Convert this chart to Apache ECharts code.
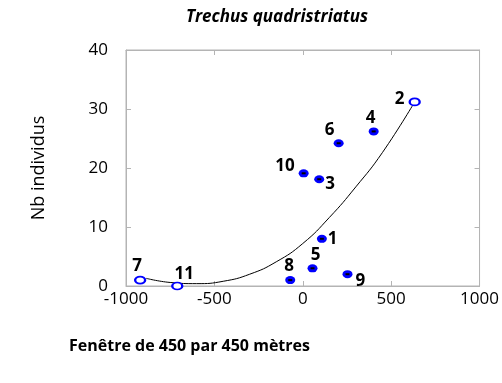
<!DOCTYPE html>
<html>
<head>
<meta charset="utf-8">
<script src="https://cdn.jsdelivr.net/npm/echarts@6/dist/echarts.min.js"></script>
<style>
  html, body { margin: 0; padding: 0; background: #fff; }
  #chart { width: 502px; height: 383px; }
</style>
</head>
<body>
<div id="chart"></div>
<script>
// sites (numero, x, nb individus)
const siteNames = ['1', '2', '3', '4', '5', '6', '7', '8', '9', '10', '11'];
const siteX = [108, 633, 93, 401, 55, 203, -920, -71, 253, 5, -710];
const siteY = [8.0, 31.2, 18.1, 26.2, 3.0, 24.2, 1.0, 1.0, 2.0, 19.1, 0.0];
// sites drawn hollow in the original
const hollowSites = ['2', '7', '11'];

// fitted curve
const curveX = [-886, -750, -600, -450, -300, -150, 0, 150, 300, 450, 633];
const curveY = [1.3, 0.6, 0.4, 0.8, 2.0, 4.1, 7.2, 11.6, 16.8, 22.6, 31.2];

// where each number sits around its point
const labelPlace = {
  '1': { position: 'right', offset: [-1, 0] },
  '2': { position: 'left', offset: [-2, -3] },
  '3': { position: 'right', offset: [-1, 5] },
  '4': { position: 'top', offset: [-3, 1] },
  '5': { position: 'top', offset: [3, 1] },
  '6': { position: 'top', offset: [-9, 1] },
  '7': { position: 'top', offset: [-3, 1] },
  '8': { position: 'top', offset: [-1, 1] },
  '9': { position: 'right', offset: [1, 7] },
  '10': { position: 'left', offset: [-2, -7] },
  '11': { position: 'top', offset: [7, 3] }
};

const frameColor = '#b4b4b4';
const tickFont = { color: '#000', fontFamily: 'Open Sans', fontSize: 17 };

const filled = [], hollow = [];
siteNames.forEach((n, i) => {
  const item = {
    name: n,
    value: [siteX[i], siteY[i]],
    label: Object.assign({ show: true, formatter: n, fontWeight: 'bold', fontSize: 17,
      color: '#000', fontFamily: 'Open Sans', distance: 2 }, labelPlace[n])
  };
  if (hollowSites.includes(n)) hollow.push(item); else filled.push(item);
});

function frameAxis(pos, min, max, step) {
  return {
    type: 'value', min: min, max: max, interval: step, position: pos,
    axisLine: { show: true, onZero: false, lineStyle: { color: frameColor, width: 1 } },
    axisTick: { show: true, inside: true, length: 5, lineStyle: { color: frameColor, width: 1 } },
    axisLabel: { show: false },
    splitLine: { show: false }
  };
}

const xBottom = frameAxis('bottom', -1000, 1000, 500);
xBottom.axisLabel = Object.assign({ show: true, margin: 5, formatter: v => String(v) }, tickFont);
const xTop = frameAxis('top', -1000, 1000, 500);

const yLeft = frameAxis('left', 0, 40, 10);
yLeft.axisLabel = Object.assign({ show: true, margin: 18, formatter: v => String(v) }, tickFont);
yLeft.name = 'Nb individus';
yLeft.nameLocation = 'middle';
yLeft.nameGap = 78;
yLeft.nameRotate = 90;
yLeft.nameTextStyle = { fontFamily: 'Open Sans', fontSize: 18, color: '#000' };
const yRight = frameAxis('right', 0, 40, 10);

const chart = echarts.init(document.getElementById('chart'));

chart.setOption({
  animation: false,
  title: [{
    text: 'Trechus quadristriatus',
    left: 272,
    top: 4,
    textAlign: 'center',
    textStyle: { fontFamily: 'Open Sans', fontSize: 17, fontWeight: 'bold', fontStyle: 'italic', color: '#000' }
  }, {
    text: 'Fenêtre de 450 par 450 mètres',
    left: 64,
    top: 333,
    textStyle: { fontFamily: 'Open Sans', fontSize: 16, fontWeight: 'bold', color: '#000' }
  }],
  grid: { left: 126, right: 12, top: 50, bottom: 97, show: true, borderColor: frameColor, borderWidth: 1 },
  xAxis: [xBottom, xTop],
  yAxis: [yLeft, yRight],
  series: [{
    name: 'courbe',
    type: 'line',
    smooth: 0.5,
    showSymbol: false,
    data: curveX.map((x, i) => [x, curveY[i]]),
    lineStyle: { color: '#000', width: 1 },
    z: 3
  }, {
    name: 'sites',
    type: 'scatter',
    symbol: 'circle',
    symbolSize: [10, 8],
    data: filled,
    itemStyle: { color: '#0000ff', opacity: 1 },
    z: 4
  }, {
    name: 'centres',
    type: 'scatter',
    symbol: 'rect',
    symbolSize: [4, 2],
    data: filled.map(d => d.value),
    itemStyle: { color: '#000', opacity: 1 },
    silent: true,
    z: 5
  }, {
    name: 'sites creux',
    type: 'scatter',
    symbol: 'circle',
    symbolSize: [10, 7],
    data: hollow,
    itemStyle: { color: '#fff', borderColor: '#0000ff', borderWidth: 2, opacity: 1 },
    z: 4
  }, {
    // empty series so the top and right frame axes get drawn
    name: 'cadre',
    type: 'scatter',
    xAxisIndex: 1,
    yAxisIndex: 1,
    data: [],
    silent: true
  }]
});
</script>
</body>
</html>
